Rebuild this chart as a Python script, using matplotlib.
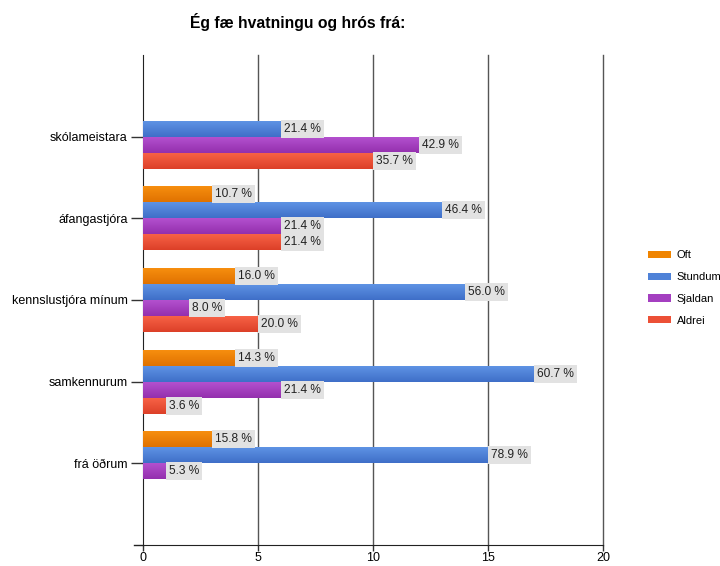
import numpy as np
import matplotlib
matplotlib.use("Agg")
import matplotlib.pyplot as plt
from matplotlib.colors import LinearSegmentedColormap
from matplotlib.patches import Patch
from matplotlib.lines import Line2D

plt.rcParams['font.family'] = ['Liberation Sans', 'DejaVu Sans']

title = "Ég fæ hvatningu og hrós frá:"
categories = ["skólameistara", "áfangastjóra", "kennslustjóra mínum", "samkennurum", "frá öðrum"]
series = ["Oft", "Stundum", "Sjaldan", "Aldrei"]
oft = [0, 3, 4, 4, 3]
stundum = [6, 13, 14, 17, 15]
sjaldan = [12, 6, 2, 6, 1]
aldrei = [10, 6, 5, 1, 0]
pct_oft = [0.0, 10.7, 16.0, 14.3, 15.8]
pct_stundum = [21.4, 46.4, 56.0, 60.7, 78.9]
pct_sjaldan = [42.9, 21.4, 8.0, 21.4, 5.3]
pct_aldrei = [35.7, 21.4, 20.0, 3.6, 0.0]
xticks = [0, 5, 10, 15, 20]

values = [oft, stundum, sjaldan, aldrei]
pcts = [pct_oft, pct_stundum, pct_sjaldan, pct_aldrei]
colors = ["#f08400", "#4f82d8", "#a43fc0", "#ec5036"]
light = ["#f89010", "#6095e6", "#b552d0", "#f96448"]
dark = ["#e07200", "#3f6fc8", "#9430ae", "#dc4028"]

W, H = 720, 566
fig = plt.figure(figsize=(W / 100, H / 100), dpi=100)
ax = fig.add_axes([143 / W, (H - 545) / H, (603 - 143) / W, (545 - 55) / H])

bh = 0.196
offsets = [-1.5 * bh, -0.5 * bh, 0.5 * bh, 1.5 * bh]
ypos = np.arange(1, len(categories) + 1)

grad = np.linspace(0, 1, 50).reshape(-1, 1)
for si in range(len(series)):
    cmap = LinearSegmentedColormap.from_list("g%d" % si, [light[si], dark[si]])
    ys = ypos + offsets[si]
    bars = ax.barh(ys, values[si], height=bh, color=colors[si], edgecolor="none", zorder=3)
    for rect, v, p, y in zip(bars, values[si], pcts[si], ys):
        if v <= 0:
            continue
        im = ax.imshow(grad, extent=[0, v, y + bh / 2, y - bh / 2], aspect="auto",
                       cmap=cmap, zorder=3.5, interpolation="bilinear")
        im.set_clip_path(rect)
        ax.text(v + 0.12, y, "%.1f %%" % p, ha="left", va="center", fontsize=8.6,
                color="#222222", zorder=5,
                bbox=dict(boxstyle="square,pad=0.26", facecolor="#e2e2e2", edgecolor="none"))

ax.set_xlim(0, 20)
ax.set_ylim(6, 0)
ax.set_xticks(xticks)
ax.set_xticklabels([str(t) for t in xticks], fontsize=9)
ax.set_yticks(ypos)
ax.set_yticklabels(categories, fontsize=9)
ax.tick_params(axis="y", length=9, width=1, color="#333333", pad=2)
ax.tick_params(axis="x", length=4, width=1, color="#333333", pad=1)
for t in xticks[1:]:
    ax.axvline(t, color="#555555", lw=1, zorder=1, clip_on=False)
for s in ["top", "right"]:
    ax.spines[s].set_visible(False)
ax.spines["left"].set_color("#222222")
ax.spines["bottom"].set_color("#222222")
ax.add_line(Line2D([-9 / 460, 0], [0, 0], transform=ax.transAxes, color="#222222",
                   lw=1, clip_on=False))

fig.text(298 / W, 1 - 22 / H, title, ha="center", va="center", fontsize=11.3,
         fontweight="bold", color="#000000")

handles = [Patch(facecolor=colors[i], edgecolor="none") for i in range(len(series))]
fig.legend(handles, series, loc="center left", bbox_to_anchor=(645 / W, 1 - 288 / H),
           frameon=False, fontsize=8, handlelength=2.0, handleheight=0.63,
           handletextpad=0.55, labelspacing=1.05, borderaxespad=0, borderpad=0.3)

fig.savefig("out.png", dpi=100)
